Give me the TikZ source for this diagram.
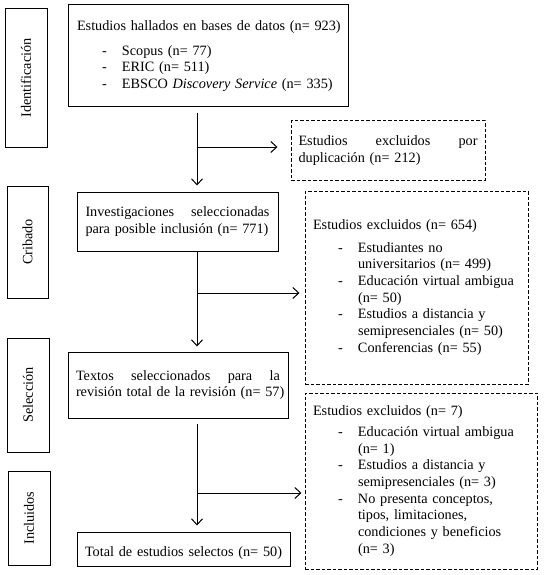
\documentclass[tikz,border=0pt]{standalone}
\usepackage{fontspec}
\setmainfont{Liberation Serif}
\usetikzlibrary{arrows.meta,calc}
\newcommand\dashitem[1]{\hspace*{25pt}\makebox[20pt][l]{-}\mbox{#1}}
\newcommand\contline[1]{\hspace*{45pt}\mbox{#1}}
\begin{document}
\begin{tikzpicture}[x=1pt,y=-1pt,
  every node/.style={font=\fontsize{14.25pt}{16.7pt}\selectfont, inner sep=0pt},
  box/.style={draw, line width=1pt},
  dbox/.style={draw, line width=1pt, dash pattern=on 3.5pt off 2pt},
  stage/.style={draw, line width=1pt, rotate=90, minimum height=42pt},
  arr/.style={line width=1pt, -{Straight Barb[length=6pt,width=11pt]}},
  ln/.style={line width=1pt}]
\useasboundingbox[fill=white] (0,0) rectangle (543,575);

% stage labels
\node[stage, minimum width=138pt] (sid) at (26,78) {Identificación};
\node[stage, minimum width=112pt, minimum height=41pt] (scr) at (27.5,242) {Cribado};
\node[stage, minimum width=114pt] (ssel) at (28,395) {Selección};
\node[stage, minimum width=94pt] (sinc) at (29,518) {Incluidos};

% main boxes
\node[box, minimum width=280pt, minimum height=102pt, text width=262pt, align=left] (b1) at (208,56)
  {\mbox{Estudios hallados en bases de datos (n= 923)}\\[8pt]
   \dashitem{Scopus (n= 77)}\\
   \dashitem{ERIC (n= 511)}\\
   \dashitem{EBSCO \textit{Discovery Service} (n= 335)}};

\node[dbox, minimum width=194pt, minimum height=59pt, text width=179pt, align=left] (dup) at (388,150.5)
  {Estudios\hfill excluidos\hfill por\\\mbox{duplicación (n= 212)}};

\node[box, minimum width=201pt, minimum height=59pt, text width=184pt, align=left] (b2) at (177.5,221.5)
  {Investigaciones\hfill seleccionadas\\\mbox{para posible inclusión (n= 771)}};

\node[dbox, minimum width=223pt, minimum height=193pt, text width=207pt, align=left] (ex1) at (416.5,287.5)
  {\mbox{Estudios excluidos (n= 654)}\\[6pt]
   \dashitem{Estudiantes no}\\
   \contline{universitarios (n= 499)}\\
   \dashitem{Educación virtual ambigua}\\
   \contline{(n= 50)}\\
   \dashitem{Estudios a distancia y}\\
   \contline{semipresenciales (n= 50)}\\
   \dashitem{Conferencias (n= 55)}};

\node[box, minimum width=220pt, minimum height=66pt, text width=204pt, align=left] (b3) at (178,385)
  {Textos\hfill seleccionados\hfill para\hfill la\\\mbox{revisión total de la revisión (n= 57)}};

\node[dbox, minimum width=232pt, minimum height=176pt, text width=216pt, align=left] (ex2) at (421,481)
  {\mbox{Estudios excluidos (n= 7)}\\[4pt]
   \dashitem{Educación virtual ambigua}\\
   \contline{(n= 1)}\\
   \dashitem{Estudios a distancia y}\\
   \contline{semipresenciales (n= 3)}\\
   \dashitem{No presenta conceptos,}\\
   \contline{tipos, limitaciones,}\\
   \contline{condiciones y beneficios}\\
   \contline{(n= 3)}};

\node[box, minimum width=213pt, minimum height=34pt, text width=197pt, text height=15pt, text depth=0pt, align=left] (b4) at (183.5,549)
  {\mbox{Total de estudios selectos (n= 50)}};

% spine
\coordinate (spine) at (197,0);

\draw[arr, shorten <=6pt, shorten >=6pt] (b1.south -| spine) -- (b2.north -| spine);
\draw[arr] ($(dup.west -| spine)+(0,-3.5)$) -- ($(dup.west)+(-13,-3.5)$);

\draw[arr, shorten >=5pt] (b2.south -| spine) -- (b3.north -| spine);
\draw[arr] ($(ex1.west -| spine)+(0,5.5)$) -- ($(ex1.west)+(-5,5.5)$);

\draw[arr, shorten <=5pt, shorten >=6pt] (b3.south -| spine) -- (b4.north -| spine);
\draw[arr] ($(ex2.west -| spine)+(0,12)$) -- ($(ex2.west)+(-3,12)$);
\end{tikzpicture}
\end{document}
